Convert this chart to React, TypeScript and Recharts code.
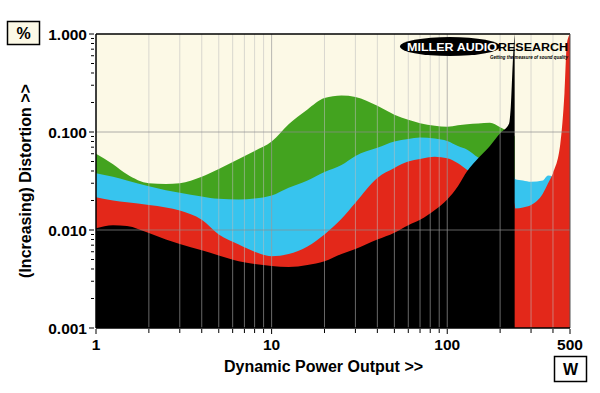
import React from 'react';
import { AreaChart, Area, XAxis, YAxis, CartesianGrid, ReferenceLine } from 'recharts';

// power levels (W) sampled along the sweep
const watts = [
  1, 1.25, 1.5, 2, 2.5, 3, 4, 5, 6.5, 8, 10, 12.5, 16, 20, 25, 30, 40, 50, 60, 70,
  85, 100, 115, 130, 150, 175, 200, 225, 230, 236, 240, 242, 244, 270, 300, 350,
  375, 400, 440, 465, 480, 500,
];

// distortion (%) per load
const green = [
  0.06, 0.047, 0.037, 0.03, 0.0295, 0.03, 0.035, 0.042, 0.053, 0.064, 0.08, 0.12,
  0.17, 0.222, 0.236, 0.228, 0.185, 0.15, 0.133, 0.123, 0.116, 0.113, 0.117, 0.12,
  0.122, 0.124, 0.112, 0.1, 0.098, 0.095, 0.092, 0.09, null, null, null, null,
  null, null, null, null, null, null,
];
const blue = [
  0.038, 0.035, 0.032, 0.028, 0.0255, 0.024, 0.022, 0.0208, 0.0205, 0.021, 0.0225,
  0.027, 0.032, 0.039, 0.046, 0.057, 0.069, 0.08, 0.085, 0.088, 0.086, 0.081,
  0.072, 0.066, 0.055, 0.048, 0.043, 0.038, 0.037, 0.036, 0.035, 0.034, 0.033,
  0.032, 0.031, 0.032, 0.036, 0.035, null, null, null, null,
];
const red = [
  0.0216, 0.02, 0.0192, 0.018, 0.017, 0.0158, 0.0127, 0.009, 0.0071, 0.006,
  0.0054, 0.0057, 0.0068, 0.009, 0.013, 0.019, 0.034, 0.043, 0.05, 0.053, 0.056,
  0.054, 0.048, 0.041, 0.035, 0.03, 0.026, 0.022, 0.021, 0.02, 0.019, 0.018,
  0.0166, 0.017, 0.018, 0.0235, 0.03, 0.038, 0.075, 0.25, 0.8, 1,
];
const black = [
  0.0104, 0.0112, 0.011, 0.0093, 0.008, 0.0072, 0.0062, 0.0055, 0.0048, 0.0045,
  0.0043, 0.0042, 0.0044, 0.0048, 0.0057, 0.0064, 0.008, 0.0094, 0.0112, 0.0127,
  0.016, 0.0205, 0.028, 0.04, 0.054, 0.072, 0.097, 0.122, 0.18, 0.5, 0.85, 1,
  null, null, null, null, null, null, null, null, null, null,
];

const xTicks = [
  1, 2, 3, 4, 5, 6, 7, 8, 9, 10, 20, 30, 40, 50, 60, 70, 80, 90, 100, 200, 300,
  400, 500,
];
const xLabels: Record<string, string> = { '1': '1', '10': '10', '100': '100', '500': '500' };
const yTicks = [
  0.001, 0.002, 0.003, 0.004, 0.005, 0.006, 0.007, 0.008, 0.009, 0.01, 0.02, 0.03,
  0.04, 0.05, 0.06, 0.07, 0.08, 0.09, 0.1, 0.2, 0.3, 0.4, 0.5, 0.6, 0.7, 0.8, 0.9, 1,
];
const yLabels: Record<string, string> = {
  '0.001': '0.001', '0.01': '0.010', '0.1': '0.100', '1': '1.000',
};
const minorGrid = [2, 3, 4, 5, 6, 7, 8, 9, 20, 30, 40, 50, 60, 70, 80, 90, 200, 300, 400];
const decadeGrid = [10, 100];
const hGrid = [0.01, 0.1];

const data = watts.map((w, i) => ({
  w,
  green: green[i],
  blue: blue[i],
  red: red[i],
  black: black[i],
}));

const FONT = '"Liberation Sans", Arial, sans-serif';

const XTick = (props: any) => {
  const { x, y, payload } = props;
  const label = xLabels[String(payload.value)];
  return (
    <g>
      <line x1={x} x2={x} y1={y + 1} y2={y + (label ? 6 : 5)} stroke="#000" />
      {label && (
        <text x={x} y={y + 22} textAnchor="middle" fontFamily={FONT} fontWeight="bold" fontSize={15.5} fill="#000">
          {label}
        </text>
      )}
    </g>
  );
};

const YTick = (props: any) => {
  const { x, y, payload } = props;
  const label = yLabels[String(payload.value)];
  return (
    <g>
      <line x1={label ? x - 7 : x - 5} x2={x - 2} y1={y} y2={y} stroke="#000" />
      {label && (
        <text x={x - 9} y={y + 5.5} textAnchor="end" fontFamily={FONT} fontWeight="bold" fontSize={15.5} fill="#000">
          {label}
        </text>
      )}
    </g>
  );
};

export default function App() {
  return (
    <div style={{ position: 'absolute', left: 0, top: 0, width: 600, height: 393, background: '#fff', fontFamily: FONT }}>
      <AreaChart
        width={600}
        height={393}
        data={data}
        margin={{ top: 34, right: 30, left: 0, bottom: 35 }}
      >
        <CartesianGrid fill="#fcf9e6" fillOpacity={1} horizontal={false} vertical={false} stroke="none" />
        <XAxis
          dataKey="w"
          type="number"
          scale="log"
          domain={[1, 500]}
          allowDataOverflow
          ticks={xTicks}
          interval={0}
          height={30}
          tickLine={false}
          tickSize={0}
          tickMargin={0}
          axisLine={{ stroke: '#000', strokeWidth: 1.5 }}
          tick={<XTick />}
        />
        <YAxis
          type="number"
          scale="log"
          domain={[0.001, 1]}
          allowDataOverflow
          ticks={yTicks}
          interval={0}
          width={96}
          tickLine={false}
          tickSize={0}
          tickMargin={0}
          axisLine={{ stroke: '#000', strokeWidth: 1.5 }}
          tick={<YTick />}
        />
        <Area type="monotone" dataKey="green" baseValue={0.001} stroke="none" fill="#43a31f" fillOpacity={1} isAnimationActive={false} />
        <Area type="monotone" dataKey="blue" baseValue={0.001} stroke="none" fill="#37c4ee" fillOpacity={1} isAnimationActive={false} />
        <Area type="monotone" dataKey="red" baseValue={0.001} stroke="none" fill="#e3281a" fillOpacity={1} isAnimationActive={false} />
        <Area type="monotone" dataKey="black" baseValue={0.001} stroke="none" fill="#000" fillOpacity={1} isAnimationActive={false} />
        {minorGrid.map((v) => (
          <ReferenceLine key={'m' + v} x={v} stroke="#bdbdbd" strokeOpacity={0.55} strokeWidth={1} />
        ))}
        {decadeGrid.map((v) => (
          <ReferenceLine key={'d' + v} x={v} stroke="#9a9a9a" strokeOpacity={0.7} strokeWidth={1} />
        ))}
        {hGrid.map((v) => (
          <ReferenceLine key={'h' + v} y={v} stroke="#8c8c8c" strokeOpacity={0.7} strokeWidth={1} />
        ))}
        <ReferenceLine y={1} stroke="#000" strokeWidth={1.5} />
        <ReferenceLine x={500} stroke="#555" strokeWidth={1} />
      </AreaChart>

      <svg width={600} height={393} style={{ position: 'absolute', left: 0, top: 0, pointerEvents: 'none' }}>
        <rect x={7.5} y={21.5} width={32} height={23} fill="#fcf9e6" stroke="#000" strokeWidth={1.5} />
        <text x={23.5} y={38.5} textAnchor="middle" fontFamily={FONT} fontWeight="bold" fontSize={16}>%</text>
        <rect x={554.5} y={356.5} width={32} height={25} fill="#fff" stroke="#000" strokeWidth={1.5} />
        <text x={570.5} y={375} textAnchor="middle" fontFamily={FONT} fontWeight="bold" fontSize={16}>W</text>
        <text x={323.5} y={372} textAnchor="middle" fontFamily={FONT} fontWeight="bold" fontSize={16}>
          Dynamic Power Output &gt;&gt;
        </text>
        <text
          transform="translate(30.5,181) rotate(-90)"
          textAnchor="middle"
          fontFamily={FONT}
          fontWeight="bold"
          fontSize={16}
        >
          (Increasing) Distortion &gt;&gt;
        </text>
        <ellipse cx={450} cy={46.5} rx={50} ry={9.5} fill="#000" />
        <text x={407} y={51} textLength={90} lengthAdjust="spacingAndGlyphs" fontFamily={FONT} fontWeight="bold" fontSize={11.5} fill="#fff">
          MILLER AUDIO
        </text>
        <text x={498} y={51} textLength={70} lengthAdjust="spacingAndGlyphs" fontFamily={FONT} fontWeight="bold" fontSize={11.5} fill="#000">
          RESEARCH
        </text>
        <text x={490} y={58.5} textLength={78} lengthAdjust="spacingAndGlyphs" fontFamily={FONT} fontWeight="bold" fontStyle="italic" fontSize={5.5} fill="#000">
          Getting the measure of sound quality
        </text>
      </svg>
    </div>
  );
}
